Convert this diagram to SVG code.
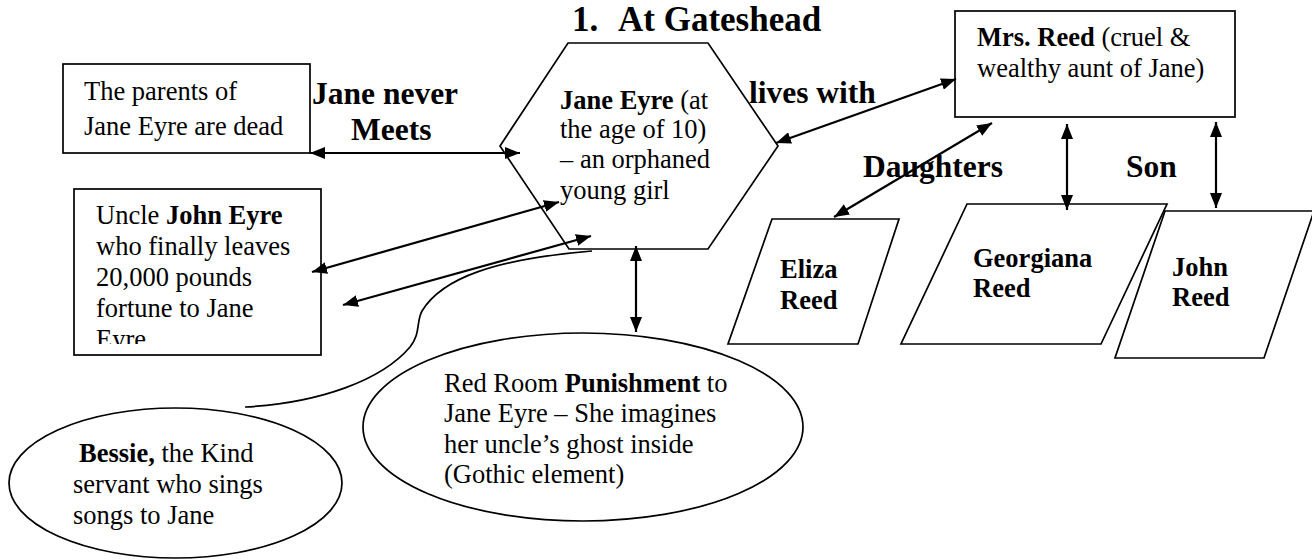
<svg xmlns="http://www.w3.org/2000/svg" width="1312" height="560" viewBox="0 0 1312 560">
<style>
.shape{fill:#fff;stroke:#000;stroke-width:1.7}
.t{font-family:"Liberation Serif","Times New Roman",serif;font-size:26.5px;fill:#000}
.b{font-weight:bold}
.lbl{font-family:"Liberation Serif","Times New Roman",serif;font-size:31.5px;font-weight:bold;fill:#000}
.ttl{font-family:"Liberation Serif","Times New Roman",serif;font-size:35px;font-weight:bold;fill:#000}
.con{fill:none;stroke:#000;stroke-width:2.2;marker-start:url(#ah);marker-end:url(#ah)}
</style>
<defs>
<marker id="ah" viewBox="0 0 15 12" refX="15" refY="6" markerWidth="15" markerHeight="12" markerUnits="userSpaceOnUse" orient="auto-start-reverse">
<path d="M0,0 L15,6 L0,12 z" fill="#000"/>
</marker>
<clipPath id="uclip"><rect x="74" y="189" width="247" height="155"/></clipPath>
</defs>
<rect width="1312" height="560" fill="#fff"/>

<g id="title">
<text class="ttl" x="572" y="31">1.</text>
<text class="ttl" x="618" y="31">At Gateshead</text>
</g>

<g id="parents">
<rect class="shape" x="63" y="64" width="247" height="89"/>
<text class="t" x="84" y="100">The parents of</text>
<text class="t" x="84" y="135">Jane Eyre are dead</text>
</g>

<g id="jane">
<polygon class="shape" points="568,43 708,43 778,146 708,249 569,249 500,146"/>
<text class="t" x="560" y="109"><tspan class="b">Jane Eyre</tspan> (at</text>
<text class="t" x="560" y="138">the age of 10)</text>
<text class="t" x="560" y="168">– an orphaned</text>
<text class="t" x="560" y="199">young girl</text>
</g>

<g id="mrsreed">
<rect class="shape" x="955" y="11" width="280" height="106"/>
<text class="t" x="977" y="46"><tspan class="b">Mrs. Reed</tspan> (cruel &amp;</text>
<text class="t" x="977" y="77">wealthy aunt of Jane)</text>
</g>

<g id="uncle">
<rect class="shape" x="74" y="189" width="247" height="166"/>
<g clip-path="url(#uclip)">
<text class="t" x="96" y="224">Uncle <tspan class="b">John Eyre</tspan></text>
<text class="t" x="96" y="255">who finally leaves</text>
<text class="t" x="96" y="286">20,000 pounds</text>
<text class="t" x="96" y="317">fortune to Jane</text>
<text class="t" x="96" y="348">Eyre</text>
</g>
</g>

<g id="eliza">
<polygon class="shape" points="772,219 899,219 858,344 728,344"/>
<text class="t b" x="780" y="278">Eliza</text>
<text class="t b" x="780" y="309">Reed</text>
</g>

<g id="georgiana">
<polygon class="shape" points="967,204 1167,204 1101,344 901,344"/>
<text class="t b" x="973" y="267">Georgiana</text>
<text class="t b" x="973" y="297">Reed</text>
</g>

<g id="john">
<polygon class="shape" points="1165,211 1314,211 1264,358 1115,358"/>
<text class="t b" x="1172" y="276">John</text>
<text class="t b" x="1172" y="306">Reed</text>
</g>

<g id="redroom">
<ellipse class="shape" cx="583" cy="427" rx="220" ry="94"/>
<text class="t" x="444" y="392">Red Room <tspan class="b">Punishment</tspan> to</text>
<text class="t" x="444" y="422">Jane Eyre – She imagines</text>
<text class="t" x="444" y="453">her uncle’s ghost inside</text>
<text class="t" x="444" y="483">(Gothic element)</text>
</g>

<g id="bessie">
<ellipse class="shape" cx="175.5" cy="483" rx="166.5" ry="75"/>
<path d="M245,407 C320,403 382,380 410,347 C421,333 416,322 422,311 C442,278 495,259 592,251" fill="none" stroke="#000" stroke-width="1.7"/>
<text class="t" x="79" y="462"><tspan class="b">Bessie,</tspan> the Kind</text>
<text class="t" x="73" y="493">servant who sings</text>
<text class="t" x="73" y="524">songs to Jane</text>
</g>

<g id="labels">
<text class="lbl" x="312" y="104">Jane never</text>
<text class="lbl" x="351" y="140">Meets</text>
<text class="lbl" x="749" y="103">lives with</text>
<text class="lbl" x="863" y="177">Daughters</text>
<text class="lbl" x="1126" y="177">Son</text>
</g>

<g id="connectors">
<line class="con" x1="310" y1="153" x2="520" y2="153"/>
<line class="con" x1="776" y1="143" x2="956" y2="79"/>
<line class="con" x1="312" y1="272" x2="559" y2="202"/>
<line class="con" x1="343" y1="305" x2="591" y2="236"/>
<line class="con" x1="636" y1="246" x2="636" y2="332"/>
<line class="con" x1="992" y1="123" x2="834" y2="217"/>
<line class="con" x1="1067" y1="124" x2="1067" y2="210"/>
<line class="con" x1="1216" y1="122" x2="1216" y2="208"/>
</g>
</svg>
